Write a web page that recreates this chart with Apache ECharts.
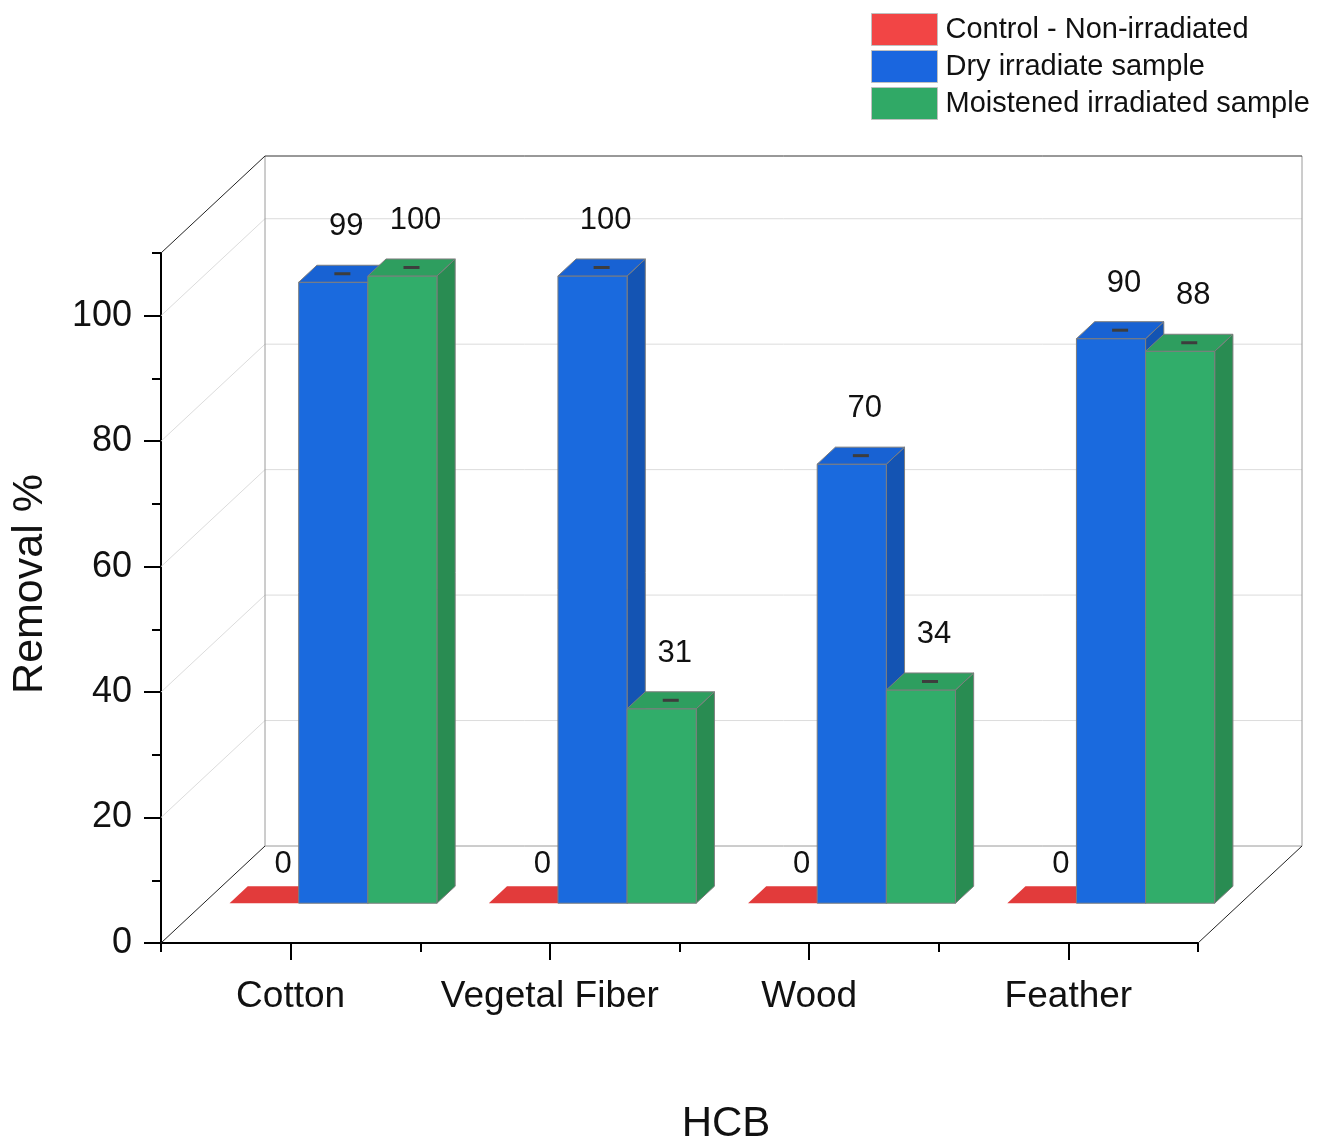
<!DOCTYPE html>
<html><head><meta charset="utf-8">
<script src="https://cdn.jsdelivr.net/npm/echarts@6/dist/echarts.min.js"></script>
<style>html,body{margin:0;padding:0;background:#fff}#c{width:1322px;height:1142px}</style>
</head><body><div id="c"></div>
<script>
// ---- data ----
const categories = ['Cotton', 'Vegetal Fiber', 'Wood', 'Feather'];
const seriesNames = ['Control - Non-irradiated', 'Dry irradiate sample', 'Moistened irradiated sample'];
const controlValues = [0, 0, 0, 0];
const dryValues = [99, 100, 70, 90];
const moistenedValues = [100, 31, 34, 88];
const yTickValues = [0, 20, 40, 60, 80, 100];
const yMinorTickValues = [10, 30, 50, 70, 90, 110];
const yMin = 0, yMax = 110;

// ---- style ----
const FONT = '"Liberation Sans", Arial, Helvetica, sans-serif';
const DX = 104, DY = -97;          // pixel shift of the back plane
const D0 = 0.41, D1 = 0.585;       // bar depth range (fraction of floor depth)
const GROUP_START = 0.1, BAR_FRAC = 0.8 / 3;
const palette = [
  {front: '#e23b3b', top: '#e23b3b', side: '#c03030', legend: '#f24545'},
  {front: '#1a6ade', top: '#1862d3', side: '#1454b3', legend: '#1a66df'},
  {front: '#31ad6a', top: '#2e9e5f', side: '#298c52', legend: '#30a966'}
];

function makeBarRender(sIdx) {
  return function (params, api) {
    const ci = api.value(0), v = api.value(1);
    const base = api.coord([ci, yMin]);
    const topPt = api.coord([ci, v]);
    const bw = api.size([1, 0])[0];
    const x0 = base[0] - bw / 2 + bw * (GROUP_START + sIdx * BAR_FRAC);
    const w = bw * BAR_FRAC;
    const fx = x0 + DX * D0, fyB = base[1] + DY * D0, fyT = topPt[1] + DY * D0;
    const ox = DX * (D1 - D0), oy = DY * (D1 - D0);
    const c = palette[sIdx];
    const edge = {stroke: '#7d7d7d', lineWidth: 1};
    const children = [];
    const h = fyB - fyT;
    if (h > 0.5) {
      children.push({type: 'polygon', shape: {points: [[fx + w, fyT], [fx + w + ox, fyT + oy], [fx + w + ox, fyB + oy], [fx + w, fyB]]},
        style: Object.assign({fill: c.side}, edge)});
      children.push({type: 'rect', shape: {x: fx, y: fyT, width: w, height: h},
        style: Object.assign({fill: c.front}, edge)});
    }
    children.push({type: 'polygon', shape: {points: [[fx, fyT], [fx + w, fyT], [fx + w + ox, fyT + oy], [fx + ox, fyT + oy]]},
      style: h > 0.5 ? Object.assign({fill: c.top}, edge) : {fill: c.top}});
    const cx = fx + w / 2 + ox / 2, cy = fyT + oy / 2;
    if (h > 0.5) {
      children.push({type: 'line', shape: {x1: cx - 8, y1: cy, x2: cx + 8, y2: cy}, style: {stroke: '#3d3d3d', lineWidth: 3}});
    }
    children.push({type: 'text', x: cx + (v > 0 ? 4 : 10), y: cy - (v > 0 ? 47 : 30),
      style: {text: String(v), fill: '#111', font: '31px ' + FONT, align: 'center', verticalAlign: 'middle'}});
    return {type: 'group', children: children};
  };
}

function frameRender(params, api) {
  const bw = api.size([1, 0])[0];
  const c0 = api.coord([0, yMin]), cN = api.coord([categories.length - 1, yMin]);
  const L = c0[0] - bw / 2, R = cN[0] + bw / 2;
  const y = function (v) { return api.coord([0, v])[1]; };
  const line = function (x1, y1, x2, y2, stroke, lw) {
    return {type: 'line', shape: {x1: x1, y1: y1, x2: x2, y2: y2}, style: {stroke: stroke, lineWidth: lw || 1}};
  };
  const ch = [];
  yTickValues.slice(1).forEach(function (v) {
    ch.push(line(L + DX, y(v) + DY, R + DX, y(v) + DY, '#dcdcdc'));
    ch.push(line(L, y(v), L + DX, y(v) + DY, '#dcdcdc'));
  });
  const y0 = y(yMin), yT = y(yMax);
  ch.push(line(L + DX, y0 + DY, R + DX, y0 + DY, '#9a9a9a'));
  ch.push(line(L + DX, y0 + DY, L + DX, yT + DY, '#9a9a9a'));
  ch.push(line(R + DX, y0 + DY, R + DX, yT + DY, '#9a9a9a'));
  ch.push(line(L + DX, yT + DY, R + DX, yT + DY, '#333'));
  ch.push(line(L, yT, L + DX, yT + DY, '#222'));
  ch.push(line(L, y0, L + DX, y0 + DY, '#222'));
  ch.push(line(R, y0, R + DX, y0 + DY, '#222'));
  return {type: 'group', children: ch};
}

const valueSets = [controlValues, dryValues, moistenedValues];
const barSeries = valueSets.map(function (vals, i) {
  return {
    type: 'custom', name: seriesNames[i], renderItem: makeBarRender(i),
    itemStyle: {color: palette[i].legend},
    data: vals.map(function (v, k) { return [k, v]; }),
    z: 3
  };
});

const chart = echarts.init(document.getElementById('c'), null, {renderer: 'canvas'});
chart.setOption({
  animation: false,
  backgroundColor: '#fff',
  grid: {left: 161, right: 124, top: 253, bottom: 199, containLabel: false, outerBoundsMode: 'none'},
  legend: {
    orient: 'vertical', left: 871, top: 13, itemWidth: 66, itemHeight: 32, itemGap: 4, padding: 0,
    selectedMode: false, icon: 'rect',
    textStyle: {fontSize: 29, color: '#111', fontFamily: FONT, padding: [0, 0, 0, 3]},
    data: seriesNames.map(function (n, i) {
      return {name: n, itemStyle: {color: palette[i].legend, borderColor: '#c0c0c0', borderWidth: 1}};
    })
  },
  xAxis: [
    {
      type: 'category', data: categories, position: 'bottom', boundaryGap: true,
      axisLine: {show: true, onZero: false, lineStyle: {color: '#000', width: 2}},
      axisTick: {show: true, interval: 0, alignWithLabel: true, length: 17, lineStyle: {color: '#000', width: 2}},
      axisLabel: {show: true, interval: 0, margin: 35, fontSize: 37, color: '#111', fontFamily: FONT},
      splitLine: {show: false},
      name: 'HCB', nameLocation: 'middle', nameGap: 160,
      nameTextStyle: {fontSize: 42, color: '#111', fontFamily: FONT, padding: [0, 0, 0, 93]}
    },
    {
      type: 'category', data: categories, position: 'bottom', boundaryGap: true,
      axisLine: {show: false, onZero: false},
      axisTick: {show: true, interval: 0, alignWithLabel: false, length: 9, lineStyle: {color: '#000', width: 2}},
      axisLabel: {show: false}, splitLine: {show: false}
    }
  ],
  yAxis: [
    {
      type: 'value', min: yMin, max: yMax, position: 'left',
      axisLine: {show: true, lineStyle: {color: '#000', width: 2}},
      axisTick: {show: true, length: 17, customValues: yTickValues, lineStyle: {color: '#000', width: 2}},
      axisLabel: {customValues: yTickValues, margin: 29, fontSize: 36, color: '#111', fontFamily: FONT},
      splitLine: {show: false},
      name: 'Removal %', nameLocation: 'middle', nameGap: 109,
      nameTextStyle: {fontSize: 43, color: '#111', fontFamily: FONT, padding: [0, 0, 0, 28]}
    },
    {
      type: 'value', min: yMin, max: yMax, position: 'left',
      axisLine: {show: false},
      axisTick: {show: true, length: 9, customValues: yMinorTickValues, lineStyle: {color: '#000', width: 2}},
      axisLabel: {show: false}, splitLine: {show: false}
    }
  ],
  series: [{type: 'custom', name: '__frame', renderItem: frameRender, data: [[0, 0]], z: 1, silent: true}].concat(barSeries)
});
</script></body></html>
